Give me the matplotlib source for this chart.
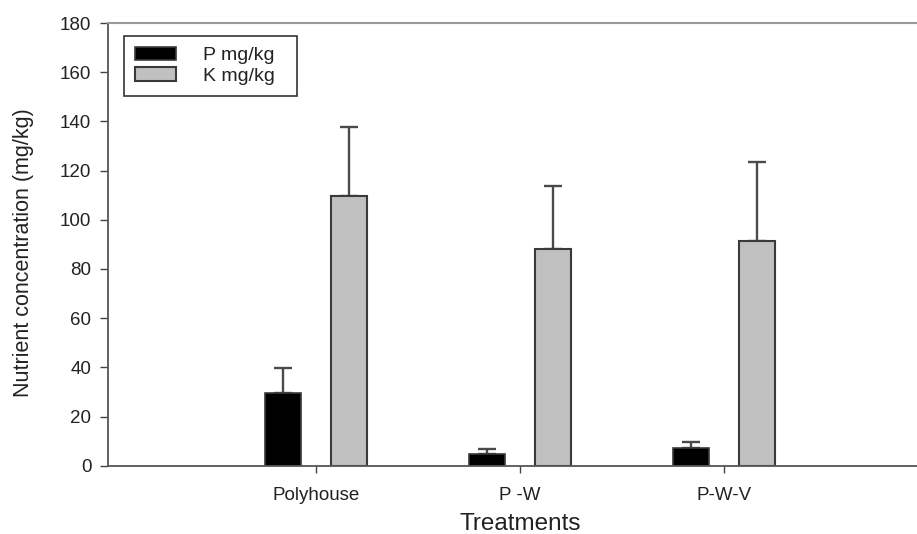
import matplotlib
matplotlib.use("Agg")
import matplotlib.pyplot as plt
import numpy as np

plt.rcParams['font.family'] = ['Liberation Sans', 'DejaVu Sans']

categories = ["Polyhouse", "P -W", "P-W-V"]
p_values = [29.4, 4.6, 7.3]
p_err = [10.2, 2.2, 2.3]
k_values = [109.6, 88.0, 91.3]
k_err = [28.1, 25.8, 32.2]
series_labels = ["P mg/kg", "K mg/kg"]
yticks = [0, 20, 40, 60, 80, 100, 120, 140, 160, 180]

fig = plt.figure(figsize=(9.17, 5.34), dpi=100)
ax = fig.add_axes([108/917, 1-465.7/534, 1-108/917, (465.7-23)/534])

x = np.arange(len(categories))
w = 0.18
off = 0.162
edge = '#3a3a3a'
ax.bar(x - off, p_values, w, color='black', edgecolor=edge, linewidth=1.2,
       label=series_labels[0], zorder=2)
ax.bar(x + off, k_values, w, color='#c0c0c0', edgecolor=edge, linewidth=1.5,
       label=series_labels[1], zorder=2)
ax.errorbar(x - off, p_values, yerr=[np.zeros(3), p_err], fmt='none',
            ecolor='#4a4a4a', elinewidth=1.7, capsize=6.5, capthick=1.7, zorder=1)
ax.errorbar(x + off, k_values, yerr=[np.zeros(3), k_err], fmt='none',
            ecolor='#4a4a4a', elinewidth=1.7, capsize=6.5, capthick=1.7, zorder=1)

ax.set_xlim(-1.02, 2.946)
ax.set_ylim(0, 180)
ax.set_yticks(yticks)
ax.set_xticks(x)
ax.set_xticklabels(categories, fontsize=13.5, color='#222222')
ax.tick_params(axis='y', labelsize=13.5, labelcolor='#222222', length=6, width=1, color='#444444', pad=6)
ax.tick_params(axis='x', length=5, width=1, color='#444444', pad=10)
for s in ['left', 'bottom']:
    ax.spines[s].set_color('#555555')
    ax.spines[s].set_linewidth(1.3)
ax.spines['top'].set_color('#999999')
ax.spines['top'].set_linewidth(1.5)
ax.spines['right'].set_visible(False)

ax.set_ylabel("Nutrient concentration (mg/kg)", fontsize=15.5, color='#222222')
ax.yaxis.set_label_coords(-0.092, 0.4816)
ax.set_xlabel("Treatments", fontsize=17.5, color='#222222')
ax.xaxis.set_label_coords(0.509, -0.106)

leg = ax.legend(loc='upper left', bbox_to_anchor=(0.0198, 0.837, 0.2138, 0.1336),
                mode='expand', borderaxespad=0, fontsize=14, handlelength=2.1,
                handleheight=0.7, handletextpad=1.4, labelspacing=0.15,
                fancybox=False, framealpha=1, edgecolor='#333333', borderpad=0.55)
leg.get_frame().set_linewidth(1.2)
for t in leg.get_texts():
    t.set_color('#222222')

fig.savefig("out.png", dpi=100)
